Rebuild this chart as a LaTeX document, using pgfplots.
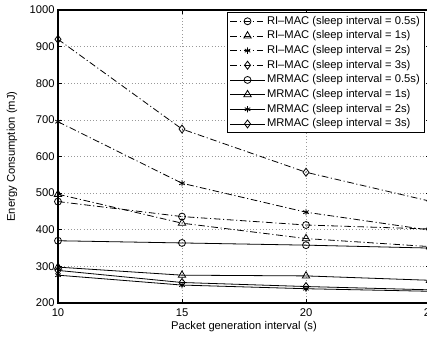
\documentclass[border=0pt]{standalone}
\usepackage{pgfplots}
\pgfplotsset{compat=1.18}
\usepackage{fontspec}
\setmainfont{Liberation Sans}
\begin{document}
\begin{tikzpicture}[x=1pt,y=1pt]
\path[use as bounding box] (-43.5,-25.5) rectangle (276.75,227.25);
\clip (-43.5,-25.5) rectangle (276.75,227.25);
\begin{axis}[
  at={(0,0)}, anchor=south west,
  scale only axis, width=279pt, height=219.75pt,
  xmin=10, xmax=25, ymin=200, ymax=1000,
  xtick={10,15,20,25}, ytick={200,300,...,1000},
  /pgf/number format/assume math mode=true,
  /pgf/number format/set thousands separator={},
  font=\fontsize{8.4}{10}\selectfont,
  tick label style={font=\fontsize{8.4}{10}\selectfont},
  tick align=inside, major tick length=3pt,
  tick style={black, line width=0.5pt},
  axis line style={black, line width=1pt},
  grid=major,
  major grid style={dotted, gray!80, line width=0.5pt},
  xticklabel style={yshift=-1pt},
  yticklabel style={xshift=1pt},
  xlabel={Packet generation interval (s)},
  ylabel={Energy Consumption (mJ)},
  xlabel style={at={(axis description cs:0.5,-0.082)}, anchor=center},
  ylabel style={at={(axis description cs:-0.1237,0.5)}, anchor=center},
  legend style={at={(rel axis cs:0.9866,0.993)}, anchor=north east,
    draw=black, line width=0.8pt, fill=white,
    font=\fontsize{8.4}{10}\selectfont,
    nodes={text height=6.2pt, text depth=1.8pt, inner sep=1.5pt},
    inner xsep=2pt, inner ysep=1pt},
  legend cell align=left,
  legend image code/.code={\draw[mark repeat=2,mark phase=2,line width=0.6pt] plot coordinates {(0cm,0cm) (0.45cm,0cm) (0.9cm,0cm)};},
  every axis plot/.append style={black, line width=0.6pt, mark options={solid, fill=white, line width=0.6pt}},
]
\pgfkeys{/pgfplots/dashdot/.style={dash pattern=on 5pt off 2pt on 0.8pt off 2pt}}
% RI-MAC
\addplot[dashdot, mark=o, mark size=2.6pt] coordinates {(10,477) (15,436) (20,413) (25,402)};
\addlegendentry{RI--MAC (sleep interval = 0.5s)}
\addplot[dashdot, mark=triangle, mark size=3.2pt] coordinates {(10,497) (15,418) (20,376) (25,354)};
\addlegendentry{RI--MAC (sleep interval = 1s)}
\addplot[dashdot, mark=asterisk, mark size=2.4pt] coordinates {(10,695) (15,527) (20,448) (25,399)};
\addlegendentry{RI--MAC (sleep interval = 2s)}
\addplot[dashdot, mark=diamond, mark size=3pt] coordinates {(10,920) (15,675) (20,557) (25,478)};
\addlegendentry{RI--MAC (sleep interval = 3s)}
% MRMAC
\addplot[solid, mark=o, mark size=2.6pt] coordinates {(10,370) (15,364) (20,358) (25,350)};
\addlegendentry{MRMAC (sleep interval = 0.5s)}
\addplot[solid, mark=triangle, mark size=3.2pt] coordinates {(10,298) (15,276) (20,274) (25,262)};
\addlegendentry{MRMAC (sleep interval = 1s)}
\addplot[solid, mark=asterisk, mark size=2.4pt] coordinates {(10,276) (15,249) (20,239) (25,232)};
\addlegendentry{MRMAC (sleep interval = 2s)}
\addplot[solid, mark=diamond, mark size=3pt] coordinates {(10,289) (15,256) (20,245) (25,236)};
\addlegendentry{MRMAC (sleep interval = 3s)}
\end{axis}
\end{tikzpicture}
\end{document}
